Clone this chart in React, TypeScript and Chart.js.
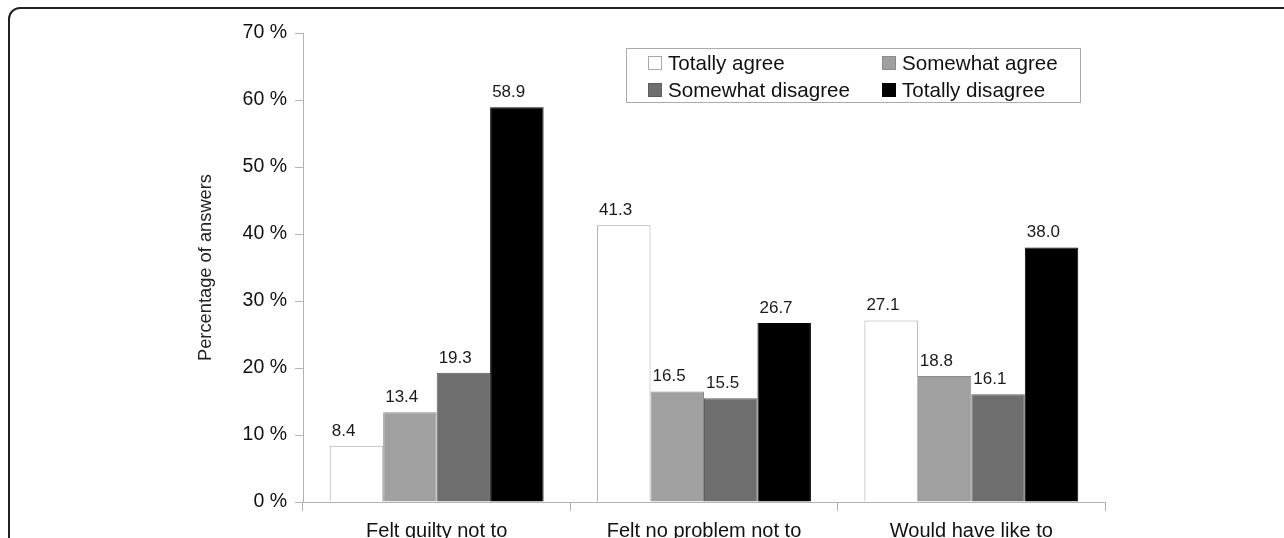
import React, { useEffect, useRef } from "react";
import { Chart, registerables } from "chart.js";

Chart.register(...registerables);

const categories = ["Felt guilty not to", "Felt no problem not to", "Would have like to"];
const seriesNames = ["Totally agree", "Somewhat agree", "Somewhat disagree", "Totally disagree"];
const totallyAgree = [8.4, 41.3, 27.1];
const somewhatAgree = [13.4, 16.5, 18.8];
const somewhatDisagree = [19.3, 15.5, 16.1];
const totallyDisagree = [58.9, 26.7, 38.0];
const yMin = 0;
const yMax = 70;
const yStep = 10;
const yTitle = "Percentage of answers";

const fills = ["#ffffff", "#a0a0a0", "#6e6e6e", "#000000"];
const borders = ["#a8a8a8", "#8c8c8c", "#5e5e5e", "#000000"];
const FONT = "'Liberation Sans', Arial, Helvetica, sans-serif";

const valueLabels = {
  id: "valueLabels",
  afterDatasetsDraw(chart: any) {
    const ctx = chart.ctx;
    ctx.save();
    ctx.font = `17px ${FONT}`;
    ctx.fillStyle = "#1a1a1a";
    ctx.textAlign = "left";
    ctx.textBaseline = "alphabetic";
    chart.data.datasets.forEach((ds: any, i: number) => {
      const meta = chart.getDatasetMeta(i);
      meta.data.forEach((bar: any, j: number) => {
        const v = ds.data[j];
        ctx.fillText(v.toFixed(1), bar.x - bar.width / 2 + 2, bar.y - 10);
      });
    });
    ctx.restore();
  },
};

const boxLegend = {
  id: "boxLegend",
  afterDraw(chart: any) {
    const ctx = chart.ctx;
    const ca = chart.chartArea;
    const left = ca.left + 323;
    const top = ca.top + 15;
    const w = 454;
    const h = 54;
    ctx.save();
    ctx.strokeStyle = "#aaaaaa";
    ctx.lineWidth = 1;
    ctx.fillStyle = "#ffffff";
    ctx.fillRect(left, top, w, h);
    ctx.strokeRect(left + 0.5, top + 0.5, w, h);
    ctx.font = `20.6px ${FONT}`;
    ctx.textBaseline = "middle";
    ctx.textAlign = "left";
    const colX = [22, 256];
    const rowY = [15, 42];
    seriesNames.forEach((name, i) => {
      const cx = left + colX[i % 2];
      const cy = top + rowY[Math.floor(i / 2)];
      ctx.fillStyle = fills[i];
      ctx.fillRect(cx, cy - 7, 14, 14);
      ctx.strokeStyle = borders[i];
      ctx.strokeRect(cx + 0.5, cy - 6.5, 13, 13);
      ctx.fillStyle = "#111111";
      ctx.fillText(name, cx + 20, cy + 1);
    });
    ctx.restore();
  },
};

export default function App() {
  const ref = useRef<HTMLCanvasElement | null>(null);

  useEffect(() => {
    if (!ref.current) return;
    Chart.defaults.font.family = FONT;
    const series = [totallyAgree, somewhatAgree, somewhatDisagree, totallyDisagree];
    const chart = new Chart(ref.current, {
      type: "bar",
      data: {
        labels: categories,
        datasets: series.map((d, i) => ({
          label: seriesNames[i],
          data: d,
          backgroundColor: fills[i],
          borderColor: borders[i],
          borderWidth: 1,
          categoryPercentage: 0.8,
          barPercentage: 1.0,
        })),
      },
      options: {
        responsive: false,
        animation: false,
        layout: { padding: { left: 195, right: 179, top: 33, bottom: 0 } },
        plugins: {
          legend: { display: false },
          tooltip: { enabled: false },
        },
        scales: {
          x: {
            grid: {
              display: true,
              drawOnChartArea: false,
              drawTicks: true,
              tickLength: 9,
              color: "#b3b3b3",
              offset: true,
            },
            border: { display: true, color: "#b3b3b3" },
            ticks: { font: { size: 20 }, color: "#111111", padding: 8, maxRotation: 0 },
            afterFit: (s: any) => {
              s.height = 36;
            },
          },
          y: {
            min: yMin,
            max: yMax,
            ticks: {
              stepSize: yStep,
              callback: (v: any) => `${v} %`,
              font: { size: 19.5 },
              color: "#111111",
              padding: 8,
            },
            grid: {
              display: true,
              drawOnChartArea: false,
              tickLength: 8,
              color: "#b3b3b3",
            },
            border: { display: true, color: "#b3b3b3" },
            title: {
              display: true,
              text: yTitle,
              font: { size: 18.3 },
              color: "#222222",
              padding: { top: 0, bottom: 0 },
            },
            afterFit: (s: any) => {
              s.width = 108;
            },
          },
        },
      },
      plugins: [valueLabels, boxLegend],
    });
    return () => chart.destroy();
  }, []);

  return (
    <div
      style={{
        position: "fixed",
        left: 0,
        top: 0,
        width: 1284,
        height: 538,
        overflow: "hidden",
        background: "#ffffff",
      }}
    >
      <div
        style={{
          position: "absolute",
          left: 8,
          top: 7,
          width: 1400,
          height: 700,
          border: "2px solid #222222",
          borderRadius: 12,
          boxSizing: "border-box",
        }}
      />
      <canvas
        ref={ref}
        width={1284}
        height={538}
        style={{ position: "absolute", left: 0, top: 0, width: 1284, height: 538 }}
      />
    </div>
  );
}
